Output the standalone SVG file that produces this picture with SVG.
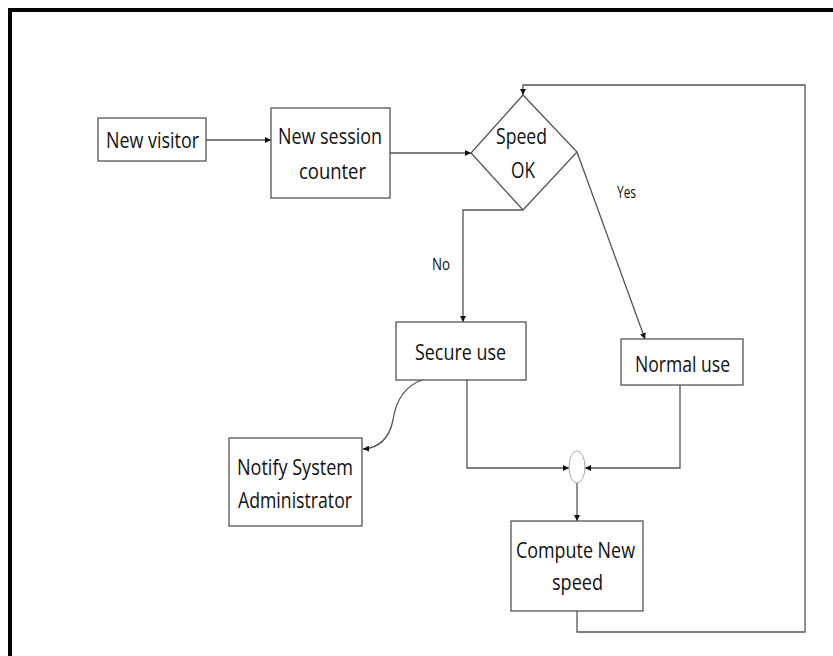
<svg xmlns="http://www.w3.org/2000/svg" width="833" height="656" viewBox="0 0 833 656">
<style>
.box{fill:#fff;stroke:#555;stroke-width:1.3}
.t{font-family:"Open Sans","Liberation Sans",sans-serif;font-size:22px;fill:#111;text-anchor:start}
.s{font-family:"Open Sans","Liberation Sans",sans-serif;font-size:16px;fill:#111}
.c{fill:none;stroke:#555;stroke-width:1.3}
</style>
<defs>
<marker id="ah" viewBox="0 0 10 10" refX="10" refY="5" markerWidth="6" markerHeight="6" orient="auto" markerUnits="userSpaceOnUse">
<path d="M0,0 L10,5 L0,10 z" fill="#111"/>
</marker>
</defs>
<rect width="833" height="656" fill="#fff"/>
<path d="M10,656 V10 H833" fill="none" stroke="#000" stroke-width="4"/>
<g id="connectors">
<path class="c" d="M206,140 H271" marker-end="url(#ah)"/>
<path class="c" d="M390,153 H471" marker-end="url(#ah)"/>
<path class="c" d="M523,210 H463 V322" marker-end="url(#ah)"/>
<path class="c" d="M577,152 L645,339" marker-end="url(#ah)"/>
<path class="c" d="M467,380 V468 H569" marker-end="url(#ah)"/>
<path class="c" d="M680,385 V468 H585" marker-end="url(#ah)"/>
<path class="c" d="M577,483 V521" marker-end="url(#ah)"/>
<path class="c" d="M577,611 V632 H805 V85 H523 V95" marker-end="url(#ah)"/>
<path class="c" d="M422,380 C405,386 396,400 393,420 C389,440 378,448 363,449" marker-end="url(#ah)"/>
<text class="s" x="432" y="270" textLength="18" lengthAdjust="spacingAndGlyphs">No</text>
<text class="s" x="617" y="198" textLength="19" lengthAdjust="spacingAndGlyphs">Yes</text>
</g>
<g id="new-visitor">
<rect class="box" x="98" y="118" width="108" height="43"/>
<text class="t" x="106" y="148" textLength="93" lengthAdjust="spacingAndGlyphs">New visitor</text>
</g>
<g id="new-session-counter">
<rect class="box" x="271" y="108" width="119" height="90"/>
<text class="t" x="278" y="144" textLength="104" lengthAdjust="spacingAndGlyphs">New session</text>
<text class="t" x="299" y="179" textLength="67" lengthAdjust="spacingAndGlyphs">counter</text>
</g>
<g id="speed-ok">
<polygon class="box" points="523,95 577,152 523,210 471,153"/>
<text class="t" x="496" y="144" textLength="51" lengthAdjust="spacingAndGlyphs">Speed</text>
<text class="t" x="511" y="178" textLength="24" lengthAdjust="spacingAndGlyphs">OK</text>
</g>
<g id="secure-use">
<rect class="box" x="396" y="322" width="130" height="58"/>
<text class="t" x="415" y="360" textLength="91" lengthAdjust="spacingAndGlyphs">Secure use</text>
</g>
<g id="normal-use">
<rect class="box" x="621" y="339" width="122" height="46"/>
<text class="t" x="635" y="372" textLength="95" lengthAdjust="spacingAndGlyphs">Normal use</text>
</g>
<g id="notify-admin">
<rect class="box" x="229" y="438" width="133" height="88"/>
<text class="t" x="237" y="475" textLength="116" lengthAdjust="spacingAndGlyphs">Notify System</text>
<text class="t" x="238" y="508" textLength="114" lengthAdjust="spacingAndGlyphs">Administrator</text>
</g>
<g id="junction">
<ellipse cx="577" cy="467" rx="8" ry="16" fill="#fff" stroke="#aaa" stroke-width="1"/>
</g>
<g id="compute-new-speed">
<rect class="box" x="511" y="521" width="132" height="90"/>
<text class="t" x="516" y="558" textLength="119" lengthAdjust="spacingAndGlyphs">Compute New</text>
<text class="t" x="552" y="590" textLength="51" lengthAdjust="spacingAndGlyphs">speed</text>
</g>
</svg>
